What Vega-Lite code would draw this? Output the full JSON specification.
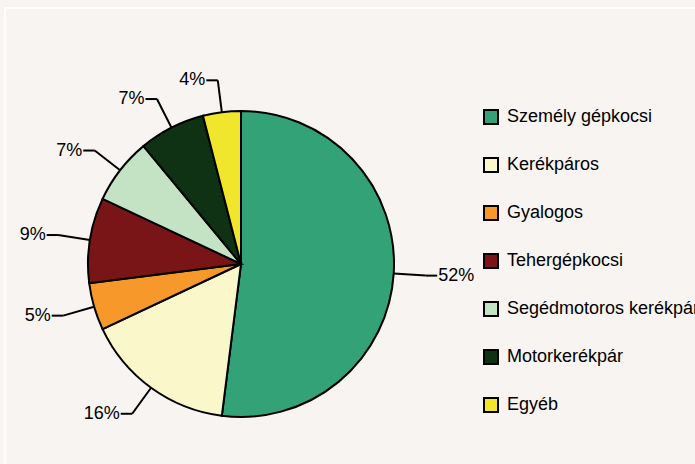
{
  "$schema": "https://vega.github.io/schema/vega-lite/v6.json",
  "width": 692,
  "height": 458,
  "autosize": "none",
  "padding": {"left": 5, "top": 8, "right": -2, "bottom": -2},
  "background": "#f7f4f1",
  "config": {
    "view": {"fill": "#f7f4f1", "stroke": "#ffffff", "strokeWidth": 2},
    "font": "Liberation Sans",
    "legend": {
      "orient": "none",
      "legendX": 477,
      "legendY": 100,
      "symbolType": "square",
      "symbolSize": 196,
      "symbolStrokeColor": "#000000",
      "symbolStrokeWidth": 2,
      "symbolOpacity": 1,
      "labelFontSize": 18,
      "labelColor": "#000000",
      "labelOffset": 7,
      "rowPadding": 26,
      "labelLimit": 300
    }
  },
  "data": {
    "values": [
      {"order": 1, "category": "Személy gépkocsi", "value": 52},
      {"order": 2, "category": "Kerékpáros", "value": 16},
      {"order": 3, "category": "Gyalogos", "value": 5},
      {"order": 4, "category": "Tehergépkocsi", "value": 9},
      {"order": 5, "category": "Segédmotoros kerékpár", "value": 7},
      {"order": 6, "category": "Motorkerékpár", "value": 7},
      {"order": 7, "category": "Egyéb", "value": 4}
    ]
  },
  "transform": [
    {"window": [{"op": "sum", "field": "value", "as": "cum"}], "sort": [{"field": "order"}], "frame": [null, 0]},
    {"joinaggregate": [{"op": "sum", "field": "value", "as": "total"}]},
    {"calculate": "2*PI*(datum.cum - datum.value/2)/datum.total", "as": "mid"},
    {"calculate": "sin(datum.mid)", "as": "ex"},
    {"calculate": "cos(datum.mid)", "as": "ey"},
    {"calculate": "1.21*sin(datum.mid)", "as": "bx"},
    {"calculate": "1.21*cos(datum.mid)", "as": "by"},
    {"calculate": "datum.ex >= 0 ? 1 : -1", "as": "side"},
    {"calculate": "datum.bx + datum.side*0.075", "as": "tx"},
    {"calculate": "datum.value + '%'", "as": "label"}
  ],
  "layer": [
    {
      "mark": {"type": "arc", "outerRadius": 153, "stroke": "#000000", "strokeWidth": 2},
      "encoding": {
        "x": {"datum": 0, "type": "quantitative", "scale": {"domain": [-1.5425, 2.9804], "zero": false, "nice": false}, "axis": null},
        "y": {"datum": 0, "type": "quantitative", "scale": {"domain": [-1.3203, 1.6732], "zero": false, "nice": false}, "axis": null},
        "theta": {"field": "value", "type": "quantitative", "stack": true},
        "order": {"field": "order", "type": "quantitative"},
        "color": {
          "field": "category",
          "type": "nominal",
          "title": null,
          "scale": {
            "domain": ["Személy gépkocsi", "Kerékpáros", "Gyalogos", "Tehergépkocsi", "Segédmotoros kerékpár", "Motorkerékpár", "Egyéb"],
            "range": ["#33a377", "#faf7cb", "#f7982b", "#7a1517", "#c4e2c4", "#0f3214", "#f0e62b"]
          }
        }
      }
    },
    {
      "mark": {"type": "rule", "stroke": "#000000", "strokeWidth": 2},
      "encoding": {
        "x": {"field": "ex", "type": "quantitative", "axis": null},
        "y": {"field": "ey", "type": "quantitative", "axis": null},
        "x2": {"field": "bx"},
        "y2": {"field": "by"}
      }
    },
    {
      "mark": {"type": "rule", "stroke": "#000000", "strokeWidth": 2},
      "encoding": {
        "x": {"field": "bx", "type": "quantitative", "axis": null},
        "y": {"field": "by", "type": "quantitative", "axis": null},
        "x2": {"field": "tx"}
      }
    },
    {
      "transform": [{"filter": "datum.side > 0"}],
      "mark": {"type": "text", "align": "left", "baseline": "middle", "dx": 1, "fontSize": 18, "color": "#000000"},
      "encoding": {
        "x": {"field": "tx", "type": "quantitative", "axis": null},
        "y": {"field": "by", "type": "quantitative", "axis": null},
        "text": {"field": "label"}
      }
    },
    {
      "transform": [{"filter": "datum.side < 0"}],
      "mark": {"type": "text", "align": "right", "baseline": "middle", "dx": -1, "fontSize": 18, "color": "#000000"},
      "encoding": {
        "x": {"field": "tx", "type": "quantitative", "axis": null},
        "y": {"field": "by", "type": "quantitative", "axis": null},
        "text": {"field": "label"}
      }
    }
  ]
}
